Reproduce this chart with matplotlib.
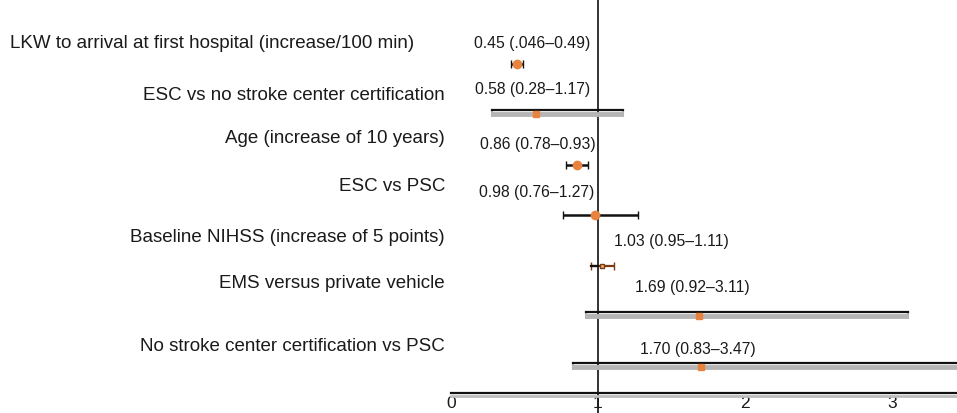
import matplotlib
matplotlib.use("Agg")
import matplotlib.pyplot as plt
from matplotlib.transforms import offset_copy

# odds ratios (95% CI)
labels = [
    "LKW to arrival at first hospital (increase/100 min)",
    "ESC vs no stroke center certification",
    "Age (increase of 10 years)",
    "ESC vs PSC",
    "Baseline NIHSS (increase of 5 points)",
    "EMS versus private vehicle",
    "No stroke center certification vs PSC",
]
est = [0.45, 0.58, 0.86, 0.98, 1.03, 1.69, 1.70]
lo = [0.41, 0.28, 0.78, 0.76, 0.95, 0.92, 0.83]
hi = [0.49, 1.17, 0.93, 1.27, 1.11, 3.11, 3.47]
ci_text = ["0.45 (.046\u20130.49)", "0.58 (0.28\u20131.17)", "0.86 (0.78\u20130.93)",
           "0.98 (0.76\u20131.27)", "1.03 (0.95\u20131.11)", "1.69 (0.92\u20133.11)",
           "1.70 (0.83\u20133.47)"]
xticks = [0, 1, 2, 3]

# layout (pixels): text offsets above each row, style of each row
label_dy = [20, 19, 26, 29, 28, 33, 20]
ci_dy = [20, 25, 20, 23, 24, 29, 17]
ci_dx = [-8, -8, -2, -4, 16, 37, 42]
wide = [False, True, False, False, False, True, True]

plt.rcParams['font.family'] = ['Liberation Sans', 'DejaVu Sans']
PT = 0.72  # points per pixel at dpi 100
orange = '#e8833f'

fig = plt.figure(figsize=(9.57, 4.13), dpi=100)
ax = fig.add_axes([451 / 957, 20 / 413, 506 / 957, 393 / 413])
ax.set_xlim(0, 506 / 147)
ax.set_ylim(6.515, -1.267)

up = offset_copy(ax.transData, fig=fig, x=0, y=4, units='dots')
for i in range(len(est)):
    if wide[i]:
        ax.errorbar(est[i], i, xerr=[[est[i] - lo[i]], [hi[i] - est[i]]], fmt='none',
                    ecolor='#b5b5b5', elinewidth=3.5, capsize=2, capthick=1.5, zorder=2)
        ax.plot([lo[i], hi[i]], [i, i], color='#111111', lw=1.6, transform=up, zorder=3)
        ax.plot(est[i], i, 's', ms=4, color=orange, zorder=4)
    elif i == 4:
        ax.errorbar(est[i], i, xerr=[[est[i] - lo[i]], [hi[i] - est[i]]], fmt='none',
                    ecolor='#7a3b12', elinewidth=1.6, capsize=3, zorder=2)
        ax.plot([lo[i], 1], [i, i], color='#111111', lw=1.6, zorder=3)
        ax.plot(est[i], i, 's', ms=3.5, mfc='#f0b080', mec='#7a3b12', zorder=4)
    else:
        ax.errorbar(est[i], i, xerr=[[est[i] - lo[i]], [hi[i] - est[i]]], fmt='none',
                    ecolor='#111111', elinewidth=1.8, capsize=3, zorder=2)
        ax.plot(est[i], i, 'o', ms=6, color=orange, zorder=4)

    # CI text near the reference line
    ax.annotate(ci_text[i], xy=(1, i), xytext=(ci_dx[i] * PT, ci_dy[i] * PT),
                textcoords='offset points', ha='right' if ci_dx[i] < 0 else 'left',
                va='center', fontsize=11.3, color='#1a1a1a')

    # row labels on the left
    if i == 0:
        ax.annotate(labels[i], xy=(10 / 957, i), xycoords=('figure fraction', 'data'),
                    xytext=(0, label_dy[i] * PT), textcoords='offset points',
                    ha='left', va='center', fontsize=13.5, color='#1a1a1a')
    else:
        ax.annotate(labels[i], xy=(0, i), xycoords=('axes fraction', 'data'),
                    xytext=(-6 * PT, label_dy[i] * PT), textcoords='offset points',
                    ha='right', va='center', fontsize=13.5, color='#1a1a1a')

# reference line at OR = 1
ax.axvline(1, ymin=-0.06, ymax=1, color='#333333', lw=1.4, clip_on=False, zorder=1)

# double-line x axis
for s in ['top', 'right', 'left']:
    ax.spines[s].set_visible(False)
ax.spines['bottom'].set_color('#111111')
ax.spines['bottom'].set_linewidth(1.6)
low = offset_copy(ax.transAxes, fig=fig, x=0, y=-3, units='dots')
ax.plot([0, 1], [0, 0], color='#bdbdbd', lw=2, transform=low, clip_on=False)
ax.set_yticks([])
ax.set_xticks(xticks)
ax.tick_params(axis='x', length=0, pad=2, labelsize=12.5, labelcolor='#1a1a1a')

fig.savefig('out.png', dpi=100)
